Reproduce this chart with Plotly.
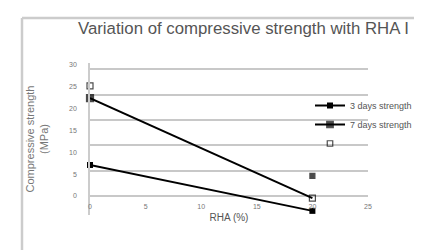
import plotly.graph_objects as go

rha = [0, 20]
s3 = [7.1, -3.4]
s7 = [22.4, -0.5]
extra = [25.2, 4.6]
series_names = ["3 days strength", "7 days strength", " "]
y_ticks = [0, 5, 10, 15, 20, 25, 30]
x_ticks = [0, 5, 10, 15, 20, 25]

W, H = 422, 250
L, R, T, B = 82, 62, 55, 43
pw, ph = W - L - R, H - T - B

def px(x):
    return (x - L) / pw

def py(y):
    return (H - B - y) / ph

fig = go.Figure()
fig.add_trace(go.Scatter(
    x=rha, y=s3, name=series_names[0], mode="lines+markers",
    line=dict(color="black", width=2),
    marker=dict(symbol="square", size=6, color="black"),
    cliponaxis=False))
fig.add_trace(go.Scatter(
    x=rha, y=s7, name=series_names[1], mode="lines+markers",
    line=dict(color="black", width=2),
    marker=dict(symbol=["square", "square-open"], size=[7, 6], color="black",
                line=dict(width=1.2, color="black")),
    cliponaxis=False))
fig.add_trace(go.Scatter(
    x=rha, y=extra, name=series_names[2], mode="markers",
    marker=dict(symbol=["square-open", "square"], size=[6, 5], color="black",
                line=dict(width=1.2, color="black")),
    cliponaxis=False))

# value 0 at pixel 188, 4.37 px per unit
yr = [(188 - (H - B)) / 4.37, (188 - T) / 4.37]
fig.add_trace(go.Scatter(x=[None], y=[None], yaxis="y2", showlegend=False, hoverinfo="skip"))

fig.update_layout(
    width=W, height=H,
    margin=dict(l=L, r=R, t=T, b=B, autoexpand=False),
    paper_bgcolor="white", plot_bgcolor="white",
    font=dict(family="Liberation Sans, Arial, sans-serif", color="#555"),
    title=dict(text="Variation of compressive strength with RHA I",
               xref="container", x=70 / W, xanchor="left",
               y=1 - 20 / H, yanchor="middle",
               font=dict(size=16.8, color="#555")),
    xaxis=dict(range=[0, 25], tickvals=x_ticks, showgrid=False, zeroline=False,
               showline=False, ticks="", tickfont=dict(size=7, color="#777"),
               ticklabelstandoff=-14,
               title=dict(text="RHA (%)", font=dict(size=10, color="#555"), standoff=4)),
    yaxis=dict(range=yr, tickvals=y_ticks, showgrid=False, zeroline=False,
               showline=True, linecolor="#ccc", linewidth=1.5, ticks="",
               tickfont=dict(size=7, color="#777"), ticklabelstandoff=10,
               title=dict(text="Compressive strength<br>(MPa)",
                          font=dict(size=11, color="#777"), standoff=18)),
    yaxis2=dict(range=yr, overlaying="y", tick0=0, dtick=5.8, showgrid=True,
                gridcolor="#c8c8c8", gridwidth=1.5, showticklabels=False,
                zeroline=False, ticks="", layer="below traces"),
    legend=dict(x=px(302), y=py(83), xanchor="left", yanchor="top",
                font=dict(size=9, color="#555"), bgcolor="rgba(0,0,0,0)",
                itemwidth=30, tracegroupgap=0),
    shapes=[
        dict(type="line", xref="paper", yref="paper", x0=px(14), x1=px(422),
             y0=py(10), y1=py(10), line=dict(color="#ccc", width=2.5)),
        dict(type="line", xref="paper", yref="paper", x0=px(14), x1=px(14),
             y0=py(10), y1=py(250), line=dict(color="#ccc", width=2.5)),
    ],
)

fig.write_html("out.html")
